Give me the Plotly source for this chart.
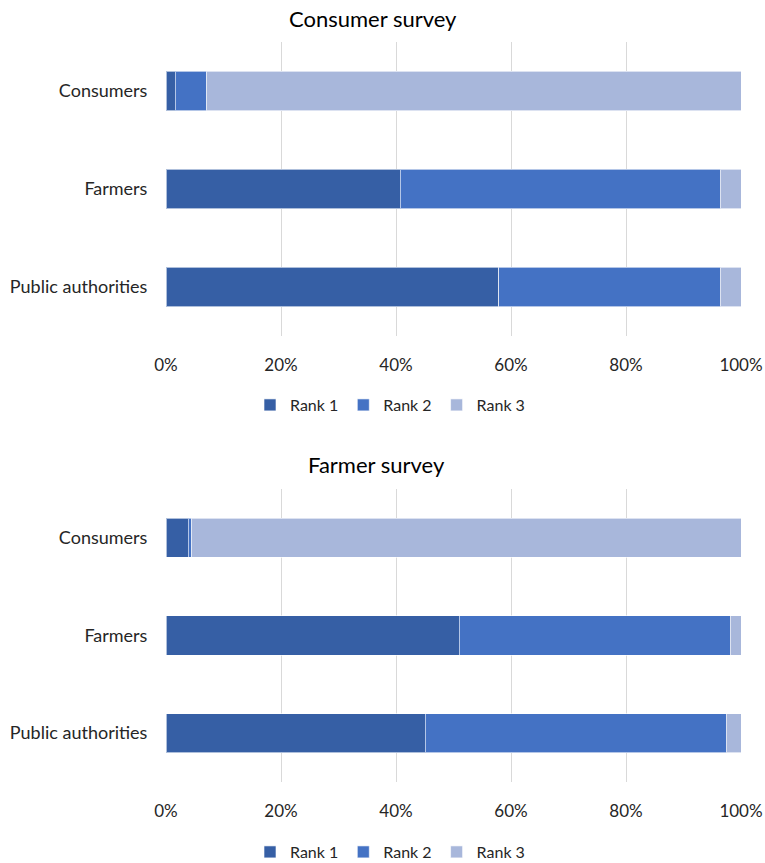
import plotly.graph_objects as go

categories = ["Consumers", "Farmers", "Public authorities"]
rank_names = ["Rank 1", "Rank 2", "Rank 3"]
colors = ["#365FA5", "#4472C4", "#A8B7DB"]

# Consumer survey (fractions)
cons_r1 = [0.016, 0.407, 0.579]
cons_r2 = [0.055, 0.557, 0.385]
cons_r3 = [0.929, 0.036, 0.036]

# Farmer survey (fractions)
farm_r1 = [0.039, 0.510, 0.451]
farm_r2 = [0.006, 0.471, 0.523]
farm_r3 = [0.955, 0.019, 0.026]

FONT = "Lato"
W, H = 765, 863
L, R = 166, 24

fig = go.Figure()

for i, vals in enumerate([cons_r1, cons_r2, cons_r3]):
    fig.add_trace(go.Bar(
        y=categories, x=vals, orientation="h", name=rank_names[i],
        marker=dict(color=colors[i], line=dict(color="rgba(255,255,255,0.6)", width=1)),
        xaxis="x", yaxis="y", legend="legend", hoverinfo="x+name",
    ))
for i, vals in enumerate([farm_r1, farm_r2, farm_r3]):
    fig.add_trace(go.Bar(
        y=categories, x=vals, orientation="h", name=rank_names[i],
        marker=dict(color=colors[i], line=dict(color="rgba(255,255,255,0.6)", width=1)),
        xaxis="x2", yaxis="y2", legend="legend2", hoverinfo="x+name",
    ))

def py(px):
    return 1 - px / H

def px_(x):
    return (x - L) / (W - L - R)

top_dom = [py(336), py(42)]
bot_dom = [py(782), py(489)]

xcommon = dict(range=[0, 1], tickformat=".0%", dtick=0.2, showgrid=True,
               gridcolor="#D9D9D9", gridwidth=1, zeroline=False, showline=False,
               ticks="outside", ticklen=14, tickcolor="rgba(0,0,0,0)",
               tickfont=dict(family=FONT, size=17, color="#262626"),
               fixedrange=True, automargin=False)
ycommon = dict(autorange="reversed", showgrid=False, zeroline=False, showline=False,
               ticks="outside", ticklen=14, tickcolor="rgba(0,0,0,0)",
               tickfont=dict(family=FONT, size=18, color="#262626"),
               fixedrange=True, automargin=False)

legfont = dict(family=FONT, size=16, color="#262626")

fig.update_layout(
    width=W, height=H,
    margin=dict(l=L, r=R, t=0, b=0, autoexpand=False),
    paper_bgcolor="white", plot_bgcolor="white",
    barmode="stack", bargap=0.6,
    showlegend=True,
    xaxis=dict(**xcommon, domain=[0, 1], anchor="y"),
    yaxis=dict(**ycommon, domain=top_dom, anchor="x"),
    xaxis2=dict(**xcommon, domain=[0, 1], anchor="y2"),
    yaxis2=dict(**ycommon, domain=bot_dom, anchor="x2"),
    legend=dict(orientation="h", x=px_(390), xanchor="center", xref="paper",
                y=py(405), yref="paper", yanchor="middle", traceorder="normal",
                font=legfont, itemwidth=30, tracegroupgap=0,
                bgcolor="rgba(0,0,0,0)"),
    legend2=dict(orientation="h", x=px_(390), xanchor="center", xref="paper",
                 y=py(852), yref="paper", yanchor="middle", traceorder="normal",
                 font=legfont, itemwidth=30, tracegroupgap=0,
                 bgcolor="rgba(0,0,0,0)"),
    annotations=[
        dict(text="Consumer survey", x=px_(373), y=py(18), xref="paper", yref="paper",
             xanchor="center", yanchor="middle", showarrow=False,
             font=dict(family=FONT, size=22, color="#000000")),
        dict(text="Farmer survey", x=px_(376), y=py(464), xref="paper", yref="paper",
             xanchor="center", yanchor="middle", showarrow=False,
             font=dict(family=FONT, size=22, color="#000000")),
    ],
)

fig.write_html("out.html")
